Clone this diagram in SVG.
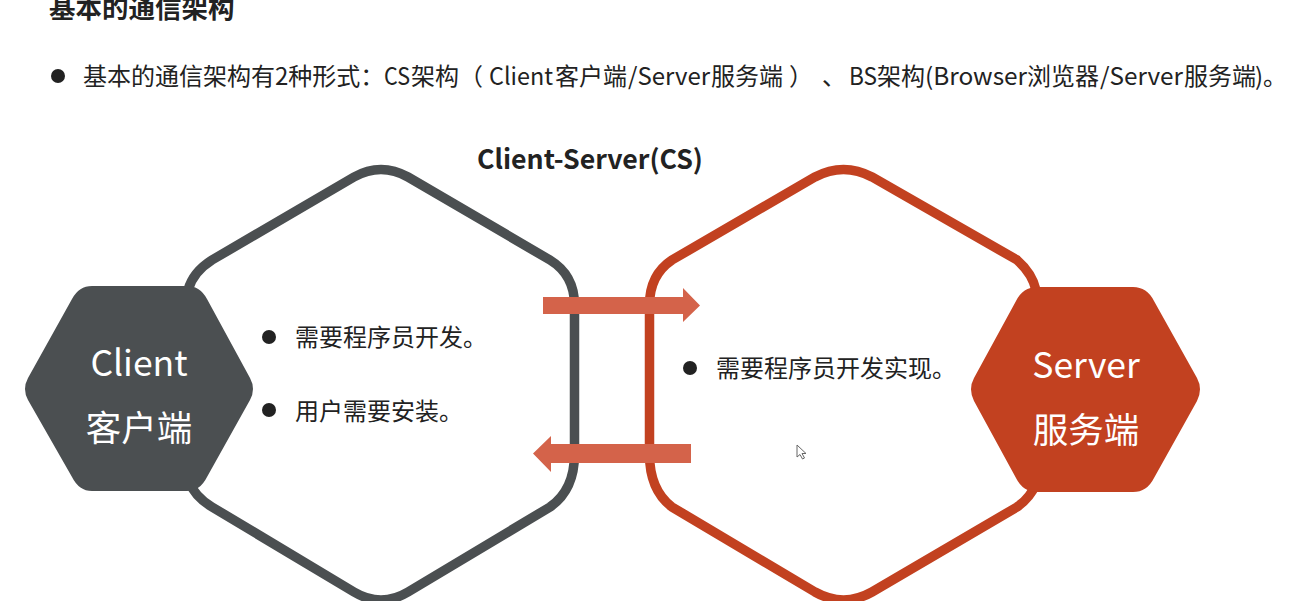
<svg xmlns="http://www.w3.org/2000/svg" width="1292" height="601" viewBox="0 0 1292 601">
<style>
text{font-family:"Noto Sans CJK SC","Noto Sans",sans-serif;fill:#222}
.ring{fill:none;stroke-width:9.5}
.gray{stroke:#4b4f51}
.red{stroke:#c24120}
.hexg{fill:#4b4f51}
.hexr{fill:#c24120}
.lbl{fill:#fff;font-size:35.500px;text-anchor:middle}
.item{font-size:24px}
.dot{fill:#222}
.arrow{fill:#d4634a}
</style>
<rect width="1292" height="601" fill="#fff"/>
<text id="heading" x="49" y="18" font-size="26.500" font-weight="700">基本的通信架构</text>
<g id="intro">
<circle class="dot" cx="58" cy="76" r="7"/>
<text y="85" font-size="24"><tspan x="83">基本的通信架构有</tspan><tspan>2</tspan><tspan>种形式：</tspan><tspan x="384" textLength="26" lengthAdjust="spacingAndGlyphs">CS</tspan><tspan x="411">架构</tspan><tspan x="459">（</tspan><tspan x="489" textLength="64" lengthAdjust="spacingAndGlyphs">Client</tspan><tspan x="555">客户端</tspan><tspan x="628" textLength="82" lengthAdjust="spacingAndGlyphs">/Server</tspan><tspan x="711">服务端</tspan><tspan x="789">）</tspan><tspan x="822">、</tspan><tspan x="849" textLength="28" lengthAdjust="spacingAndGlyphs">BS</tspan><tspan x="877">架构</tspan><tspan x="925" textLength="102" lengthAdjust="spacingAndGlyphs">(Browser</tspan><tspan x="1027">浏览器</tspan><tspan x="1100" textLength="83" lengthAdjust="spacingAndGlyphs">/Server</tspan><tspan x="1184">服务端</tspan><tspan x="1255">)。</tspan></text>
</g>
<text id="title" x="477" y="169" font-size="26.700" font-weight="700">Client-Server(CS)</text>
<g id="client-ring">
<path class="ring gray" d="M188 290Q193 272 212 260L354 177Q381 162 408 177L550 260Q574.500 275 574.500 305V454Q574.500 490 550 507L408 592Q381 608 354 592L212 507Q195 497 188 480"/>
</g>
<g id="server-ring">
<path class="ring red" d="M1036 290Q1032 273 1017 260L872 177Q843.500 162 815 177L672 260Q649.500 275 649.500 305V454Q649.500 490 672 507L815 592Q843.500 608 872 592L1017 507Q1030 498 1036 484"/>
</g>
<g id="client-list">
<circle class="dot" cx="269" cy="337" r="7"/>
<text class="item" x="295" y="346">需要程序员开发。</text>
<circle class="dot" cx="269" cy="410" r="7"/>
<text class="item" x="295" y="420">用户需要安装。</text>
</g>
<g id="server-list">
<circle class="dot" cx="690" cy="368" r="7"/>
<text class="item" x="716" y="377">需要程序员开发实现。</text>
</g>
<g id="client">
<path class="hexg" d="M92 286H187Q200 286 207 299L250 378Q256 389 250 400L207 477Q200 491 187 491H92Q79 491 72 477L28 400Q22 389 28 378L72 299Q79 286 92 286Z"/>
<text class="lbl" x="139" y="376">Client</text>
<text class="lbl" x="139" y="441">客户端</text>
</g>
<g id="server">
<path class="hexr" d="M1037 287H1133Q1147 287 1154 301L1197 378Q1203 389 1197 401L1154 478Q1147 492 1133 492H1037Q1023 492 1016 478L974 401Q968 389 974 378L1016 301Q1023 287 1037 287Z"/>
<text class="lbl" x="1086" y="378">Server</text>
<text class="lbl" x="1086" y="443">服务端</text>
</g>
<g id="connectors">
<path class="arrow" d="M543 297H683V288L700 305.500L683 322V314H543Z"/>
<path class="arrow" d="M691 444H551V436L533 453.500L551 472V463H691Z"/>
</g>
<path id="cursor" d="M797 445V457L800 454.500L802.500 459L804.500 458L802 453.500H806Z" fill="#fff" stroke="#666" stroke-width="1"/>
</svg>
